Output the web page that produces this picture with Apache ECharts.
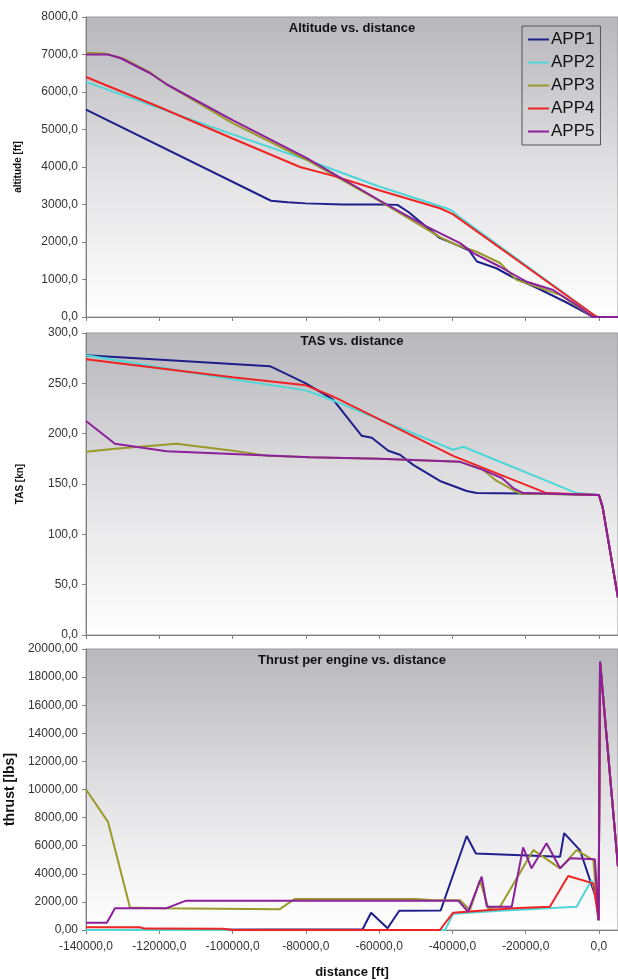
<!DOCTYPE html>
<html>
<head>
<meta charset="utf-8">
<script src="https://cdn.jsdelivr.net/npm/echarts@6/dist/echarts.min.js"></script>
<style>
html,body{margin:0;padding:0;background:#fff;}
#c{width:618px;height:980px;}
</style>
</head>
<body>
<div id="c"></div>
<script>
var seriesNames = ['APP1','APP2','APP3','APP4','APP5'];
var seriesColors = ['#1f1f8c','#4fd6d6','#9a9a2a','#ee2424','#8c1f9c'];

// Altitude [ft] vs distance [ft]
var alt_APP1 = [[-140000,5530],[-89500,3100],[-85000,3060],[-80000,3030],[-70000,3000],[-60000,3000],[-55000,2990],[-52000,2800],[-43500,2110],[-39500,1950],[-35500,1780],[-33300,1480],[-28000,1300],[-23500,1060],[-17000,780],[-8700,380],[-1500,0],[5200,0]];
var alt_APP2 = [[-140000,6270],[-120000,5570],[-100000,4870],[-80000,4200],[-60000,3480],[-41600,2900],[-40000,2830],[-38500,2700],[-600,0],[0,0],[5200,0]];
var alt_APP3 = [[-140000,7050],[-135000,7030],[-130000,6900],[-122500,6520],[-118000,6200],[-100000,5170],[-80000,4200],[-59000,3040],[-43400,2130],[-38800,1920],[-33400,1740],[-27000,1440],[-22500,990],[-10600,590],[-2500,60],[0,0],[5200,0]];
var alt_APP4 = [[-140000,6400],[-120000,5600],[-100000,4760],[-81600,4000],[-72000,3750],[-60000,3380],[-43400,2900],[-40000,2750],[-600,0],[0,0],[5200,0]];
var alt_APP5 = [[-140000,7000],[-134000,7000],[-130500,6900],[-122500,6500],[-117900,6200],[-100000,5250],[-80000,4250],[-59000,3060],[-47000,2410],[-37900,1970],[-34400,1710],[-27000,1340],[-19700,940],[-12500,720],[-6100,320],[-1600,0],[0,0],[5200,0]];

// TAS [kn] vs distance [ft]
var tas_APP1 = [[-140000,278],[-89800,267],[-80000,250],[-72600,234],[-64800,198],[-62000,196],[-57500,183],[-54300,179],[-50700,169],[-43400,153],[-36100,143],[-33400,141],[-10000,140],[0,139],[1000,127],[5200,37]];
var tas_APP2 = [[-140000,278],[-120000,266],[-100000,254],[-80000,243],[-72600,233],[-39800,184],[-37000,187],[-6100,141],[0,139],[1000,127],[5200,37]];
var tas_APP3 = [[-140000,182],[-132100,185],[-115300,190],[-99800,183],[-90700,178],[-78900,176.5],[-60000,175],[-37900,172],[-31600,164],[-27900,153],[-21600,140.5],[0,139],[1000,127],[5200,37]];
var tas_APP4 = [[-140000,274],[-120000,265],[-100000,256],[-80000,248],[-72600,237],[-39800,178],[-31600,166],[-14300,141],[0,139],[1000,127],[5200,37]];
var tas_APP5 = [[-140000,212.5],[-132100,190],[-118000,182.6],[-78900,176.6],[-60000,175],[-37900,172],[-31600,164],[-26500,156],[-23400,146],[-20700,141],[0,139],[1000,127],[5200,37]];

// Thrust per engine [lbs] vs distance [ft]
var thr_APP1 = [[-140000,0],[-64500,50],[-62200,1230],[-57700,120],[-54500,1370],[-43200,1390],[-36100,6690],[-33600,5440],[-10600,5220],[-9500,6900],[-5200,5690],[-600,2130],[-100,700],[300,19100],[5200,4500]];
var thr_APP2 = [[-140000,0],[-42000,0],[-39800,1150],[-27000,1370],[-6100,1660],[-2000,3560],[-600,2130],[-100,700],[300,19100],[5200,4500]];
var thr_APP3 = [[-140000,10000],[-134000,7700],[-128000,1600],[-120000,1540],[-87200,1470],[-83100,2200],[-50000,2200],[-45000,2120],[-37900,2120],[-35200,1420],[-32500,3560],[-30200,1540],[-27000,1660],[-17900,5690],[-10600,4390],[-6100,5690],[-1550,4980],[-100,700],[300,19100],[5200,4500]];
var thr_APP4 = [[-140000,190],[-125300,190],[-124000,100],[-102500,90],[-100000,0],[-43400,0],[-39800,1230],[-23400,1540],[-13400,1660],[-8400,3840],[-1550,3320],[-100,700],[300,19100],[5200,4500]];
var thr_APP5 = [[-140000,520],[-134300,520],[-132100,1540],[-118200,1540],[-112700,2090],[-38400,2090],[-35700,1300],[-32000,3800],[-30600,1660],[-23800,1660],[-20700,5880],[-18400,4390],[-14300,6170],[-10600,4390],[-7900,5100],[-1100,5030],[-100,700],[300,19100],[5200,4500]];

var chartTitles = ['Altitude vs. distance','TAS vs. distance','Thrust per engine vs. distance'];
var yNames = ['altitude [ft]','TAS [kn]','thrust [lbs]'];
var xName = 'distance [ft]';

var altSets = [alt_APP1,alt_APP2,alt_APP3,alt_APP4,alt_APP5];
var tasSets = [tas_APP1,tas_APP2,tas_APP3,tas_APP4,tas_APP5];
var thrSets = [thr_APP1,thr_APP2,thr_APP3,thr_APP4,thr_APP5];

var FONT = '"Liberation Sans", Arial, sans-serif';
var bgGrad = new echarts.graphic.LinearGradient(0,0,0,1,[
  {offset:0,color:'#b7b7bc'},{offset:0.55,color:'#e4e4e6'},{offset:1,color:'#ffffff'}]);

function comma(v, d){ return v.toFixed(d).replace('.', ','); }

var gridDefs = [
  {left:86, top:17, height:300},
  {left:86, top:333, height:302},
  {left:86, top:649, height:281}
];
var grids = gridDefs.map(function(g){
  return {left:g.left, top:g.top, height:g.height, right:0, show:true,
    backgroundColor:bgGrad, borderColor:'#9a9a9a', borderWidth:1,
    containLabel:false, outerBoundsMode:'none'};
});

var xAxes = [0,1,2].map(function(i){
  return {type:'value', gridIndex:i, min:-140000, max:5200, interval:20000,
    axisLine:{show:true, onZero:false, lineStyle:{color:'#808080', width:1}},
    axisTick:{show:true, length:4, lineStyle:{color:'#808080'}},
    splitLine:{show:false},
    axisLabel:{show:i===2, showMaxLabel:false, margin:11, color:'#333', fontFamily:FONT, fontSize:12,
      formatter:function(v){ return (v % 20000 === 0) ? comma(v,1) : ''; }},
    name: i===2 ? xName : '', nameLocation:'middle', nameGap:36,
    nameTextStyle:{fontFamily:FONT, fontWeight:'bold', fontSize:13, color:'#111'}
  };
});

var yCfg = [
  {max:8000, interval:1000, dec:1, gap:63, fs:10},
  {max:300, interval:50, dec:1, gap:61, fs:10},
  {max:20000, interval:2000, dec:2, gap:64, fs:14}
];
var yAxes = yCfg.map(function(c,i){
  return {type:'value', gridIndex:i, min:0, max:c.max, interval:c.interval,
    axisLine:{show:true, onZero:false, lineStyle:{color:'#808080', width:1}},
    axisTick:{show:true, length:4, lineStyle:{color:'#808080'}},
    splitLine:{show:false},
    axisLabel:{margin:8, color:'#333', fontFamily:FONT, fontSize:12,
      formatter:function(v){ return comma(v, c.dec); }},
    name:yNames[i], nameLocation:'middle', nameGap:c.gap, nameRotate:90,
    nameTextStyle:{fontFamily:FONT, fontWeight:'bold', fontSize:c.fs, color:'#111'}
  };
});

var series = [];
[altSets, tasSets, thrSets].forEach(function(sets, gi){
  sets.forEach(function(d, si){
    series.push({type:'line', name:seriesNames[si], xAxisIndex:gi, yAxisIndex:gi,
      data:d, symbol:'none', smooth:false, clip:true,
      lineStyle:{color:seriesColors[si], width:2}, itemStyle:{color:seriesColors[si]}});
  });
});

var titleY = [28, 341, 660];
var graphics = chartTitles.map(function(t,i){
  return {type:'text', x:352, y:titleY[i], z:100,
    style:{text:t, textAlign:'center', textVerticalAlign:'middle',
      font:'bold 13px ' + FONT, fill:'#111'}};
});

var chart = echarts.init(document.getElementById('c'), null, {renderer:'canvas'});
chart.setOption({
  animation:false,
  backgroundColor:'#ffffff',
  grid:grids,
  xAxis:xAxes,
  yAxis:yAxes,
  legend:{data:seriesNames, orient:'vertical', left:522, top:26,
    icon:'rect', itemWidth:21, itemHeight:2, itemGap:6,
    padding:[5,6,5,6], borderColor:'#555', borderWidth:1, backgroundColor:'transparent',
    textStyle:{fontFamily:FONT, fontSize:17, color:'#111', padding:[0,0,0,-3]}},
  graphic:graphics,
  series:series
});
</script>
</body>
</html>
